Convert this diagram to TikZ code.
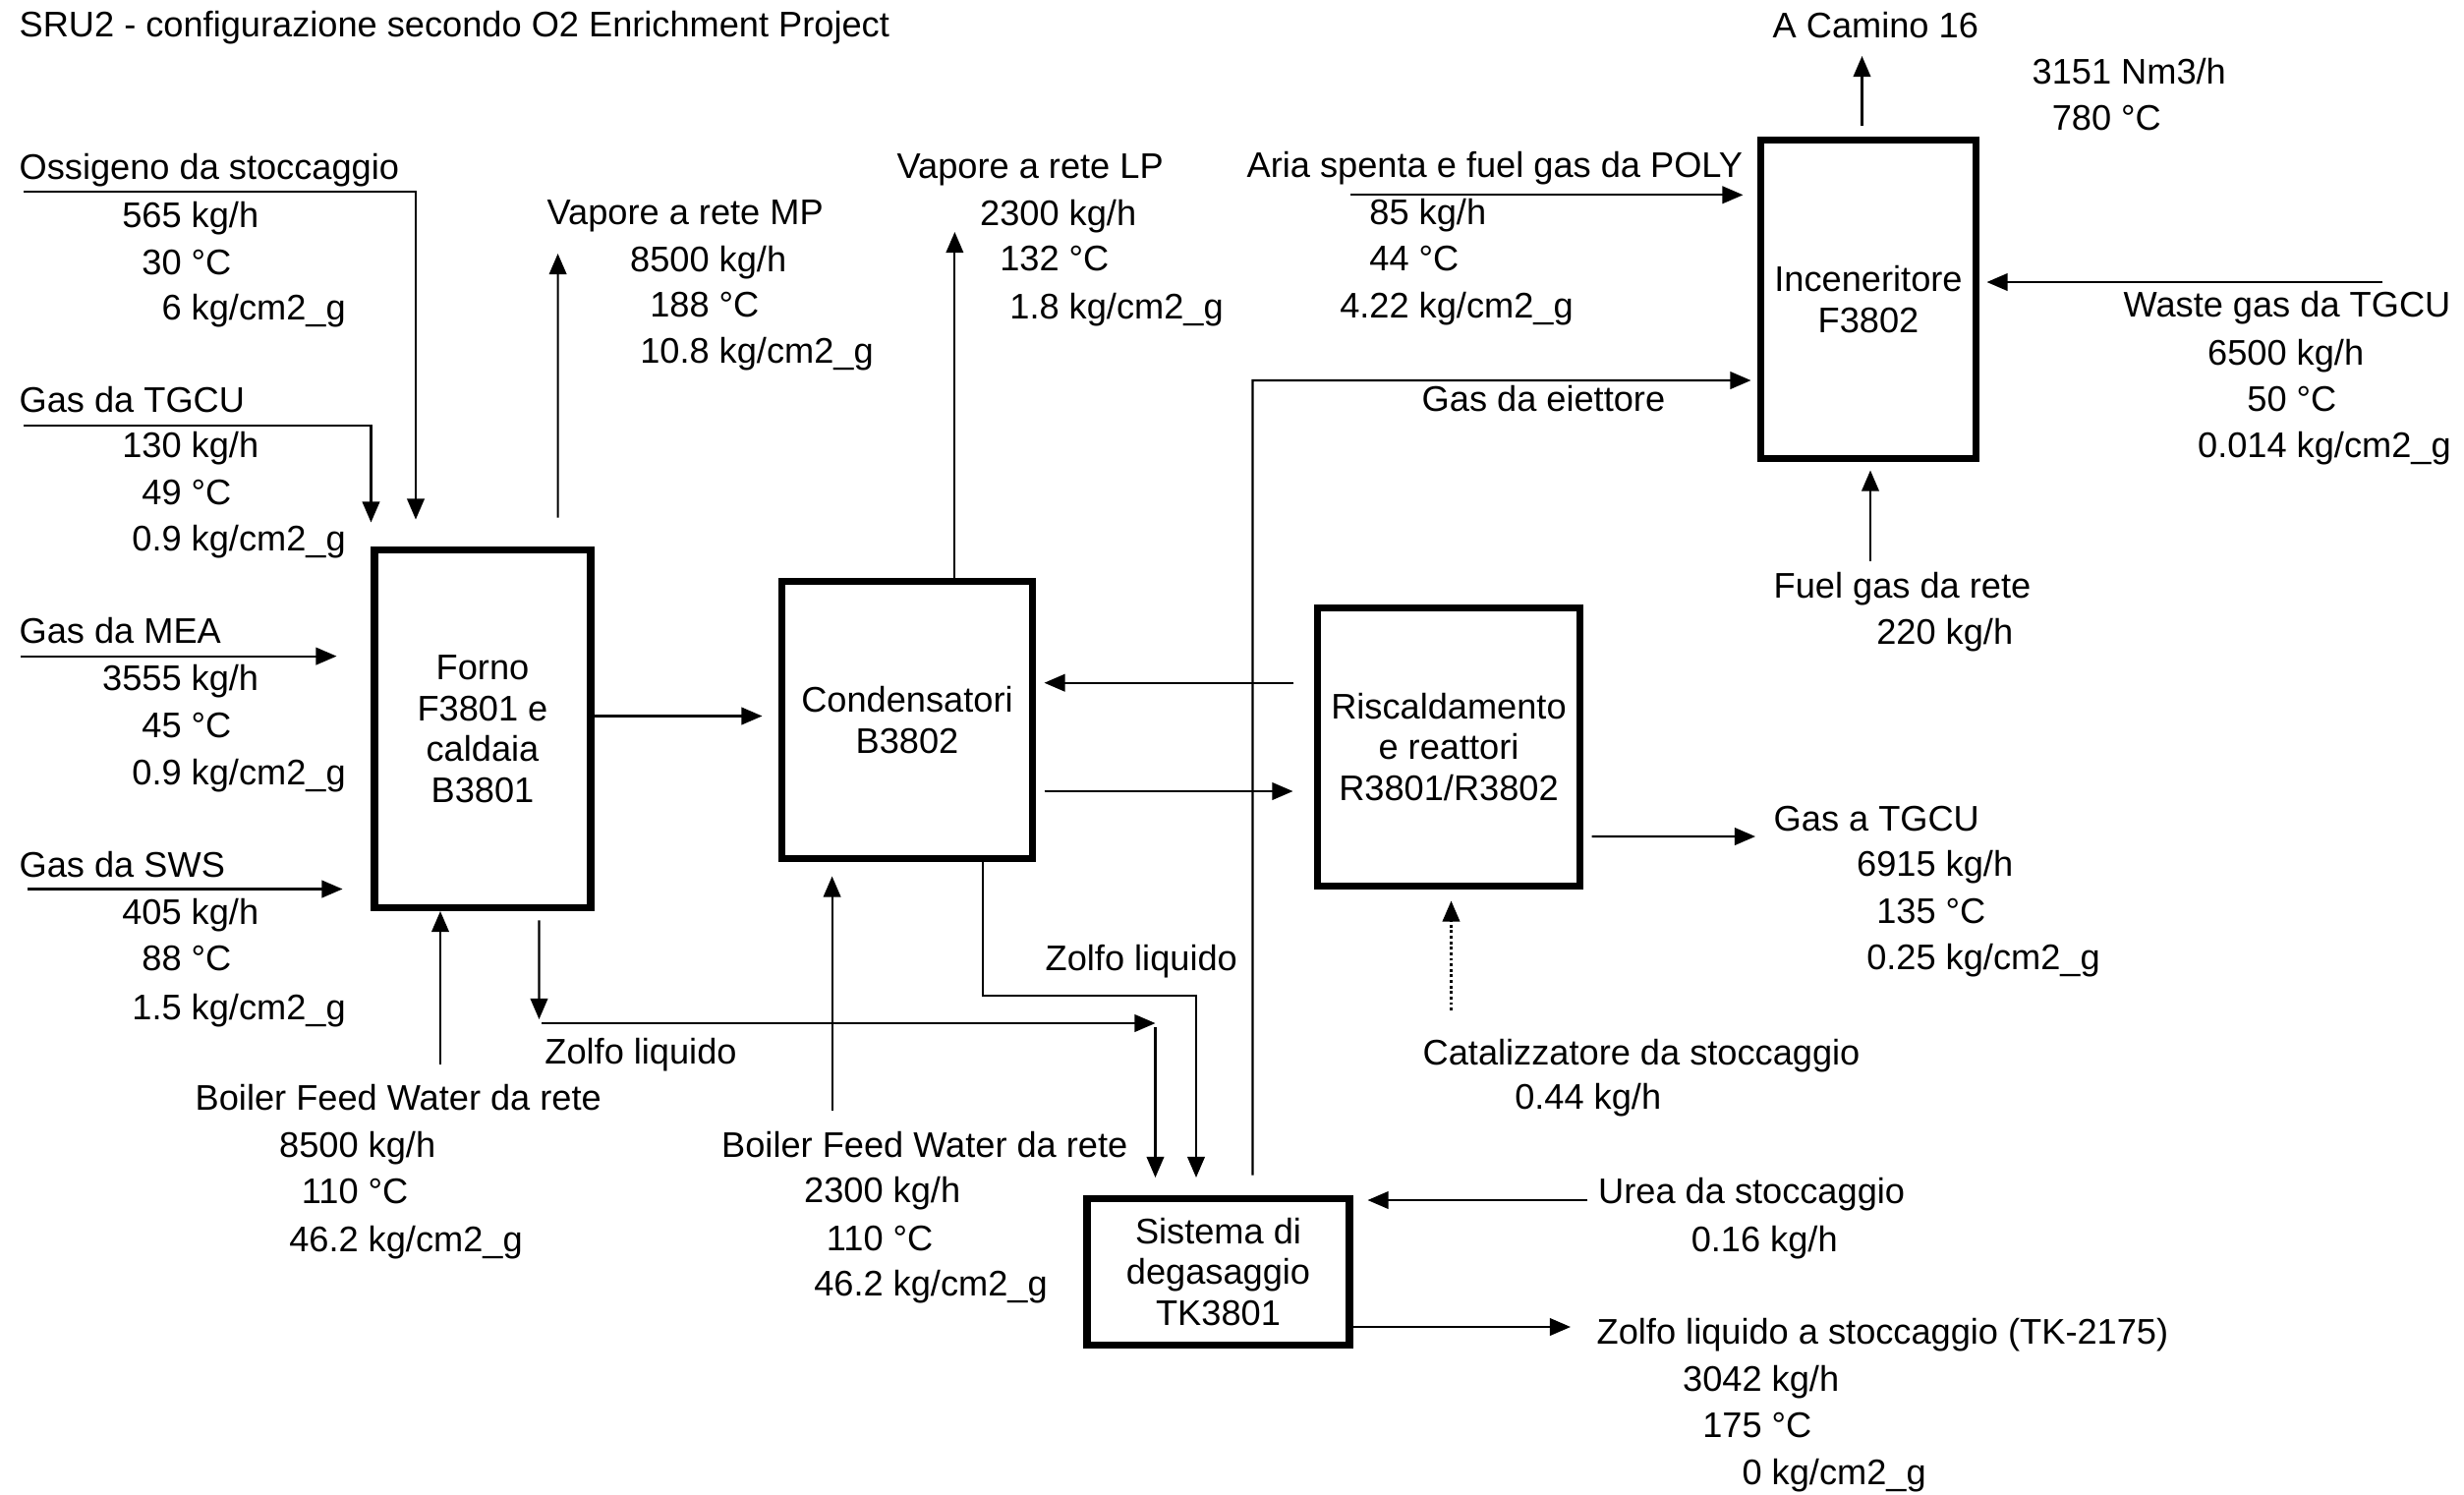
\documentclass[tikz,border=0pt]{standalone}
\usepackage{fontspec}
\setmainfont{Liberation Sans}
\usetikzlibrary{arrows.meta,positioning}
\newcommand{\sval}[2]{\llap{#1}\ #2}

\begin{document}
\begin{tikzpicture}[font=\fontsize{10.3}{13.4}\selectfont,
  >={Triangle[length=6pt,width=5pt]},
  flow/.style={->,line width=0.6pt},
  unit/.style={draw,line width=2pt,align=center,inner sep=0pt,font=\fontsize{10.3}{11.8}\selectfont},
  lbl/.style={anchor=base west,inner sep=0pt}]
\useasboundingbox (0,0) rectangle (25.07,-15.20);
% units
\node (forno) [unit,minimum width=2.20cm,minimum height=3.64cm] at (4.91,-7.415) {Forno\\F3801 e\\caldaia\\B3801};
\node (cond) [unit,minimum width=2.55cm,minimum height=2.82cm] at (9.23,-7.325) {Condensatori\\B3802};
\node (risc) [unit,minimum width=2.67cm,minimum height=2.83cm] at (14.74,-7.60) {Riscaldamento\\e reattori\\R3801/R3802};
\node (incen) [unit,minimum width=2.19cm,minimum height=3.24cm] at (19.01,-3.045) {Inceneritore\\F3802};
\node (degas) [unit,minimum width=2.67cm,minimum height=1.49cm] at (12.395,-12.94) {Sistema di\\degasaggio\\TK3801};
% title
\node (tit) [lbl] at (0.19,-0.37) {SRU2 - configurazione secondo O2 Enrichment Project};
% feeds to the furnace
\node (oxh) [lbl] at (0.19,-1.82) {Ossigeno da stoccaggio};
\node (ox1) [lbl] at (1.84,-2.31) {\sval{565}{kg/h}};
\node (ox2) [lbl] at (1.84,-2.79) {\sval{30}{°C}};
\node (ox3) [lbl] at (1.84,-3.25) {\sval{6}{kg/cm2\_g}};
\node (tgh) [lbl] at (0.19,-4.19) {Gas da TGCU};
\node (tg1) [lbl] at (1.84,-4.65) {\sval{130}{kg/h}};
\node (tg2) [lbl] at (1.84,-5.135) {\sval{49}{°C}};
\node (tg3) [lbl] at (1.84,-5.60) {\sval{0.9}{kg/cm2\_g}};
\node (meh) [lbl] at (0.19,-6.546) {Gas da MEA};
\node (me1) [lbl] at (1.84,-7.02) {\sval{3555}{kg/h}};
\node (me2) [lbl] at (1.84,-7.50) {\sval{45}{°C}};
\node (me3) [lbl] at (1.84,-7.98) {\sval{0.9}{kg/cm2\_g}};
\node (swh) [lbl] at (0.19,-8.92) {Gas da SWS};
\node (sw1) [lbl] at (1.84,-9.40) {\sval{405}{kg/h}};
\node (sw2) [lbl] at (1.84,-9.87) {\sval{88}{°C}};
\node (sw3) [lbl] at (1.84,-10.37) {\sval{1.5}{kg/cm2\_g}};
\node (bfh1) [lbl] at (1.98,-11.29) {Boiler Feed Water da rete};
\node (bf11) [lbl] at (3.64,-11.77) {\sval{8500}{kg/h}};
\node (bf12) [lbl] at (3.64,-12.24) {\sval{110}{°C}};
\node (bf13) [lbl] at (3.64,-12.73) {\sval{46.2}{kg/cm2\_g}};
% steam and water
\node (mph) [lbl] at (5.56,-2.287) {Vapore a rete MP};
\node (mp1) [lbl] at (7.21,-2.76) {\sval{8500}{kg/h}};
\node (mp2) [lbl] at (7.21,-3.227) {\sval{188}{°C}};
\node (mp3) [lbl] at (7.21,-3.69) {\sval{10.8}{kg/cm2\_g}};
\node (lph) [lbl] at (9.12,-1.81) {Vapore a rete LP};
\node (lp1) [lbl] at (10.77,-2.29) {\sval{2300}{kg/h}};
\node (lp2) [lbl] at (10.77,-2.75) {\sval{132}{°C}};
\node (lp3) [lbl] at (10.77,-3.247) {\sval{1.8}{kg/cm2\_g}};
\node (bfh2) [lbl] at (7.335,-11.77) {Boiler Feed Water da rete};
\node (bf21) [lbl] at (8.98,-12.237) {\sval{2300}{kg/h}};
\node (bf22) [lbl] at (8.98,-12.72) {\sval{110}{°C}};
\node (bf23) [lbl] at (8.98,-13.187) {\sval{46.2}{kg/cm2\_g}};
\node (zl1) [lbl] at (5.537,-10.82) {Zolfo liquido};
\node (zl2) [lbl] at (10.63,-9.875) {Zolfo liquido};
% incinerator
\node (arh) [lbl] at (12.68,-1.803) {Aria spenta e fuel gas da POLY};
\node (ar1) [lbl] at (14.33,-2.287) {\sval{85}{kg/h}};
\node (ar2) [lbl] at (14.33,-2.75) {\sval{44}{°C}};
\node (ar3) [lbl] at (14.33,-3.237) {\sval{4.22}{kg/cm2\_g}};
\node (ejh) [lbl] at (14.46,-4.187) {Gas da eiettore};
\node (cmh) [lbl] at (18.03,-0.38) {A Camino 16};
\node (cm1) [lbl] at (21.475,-0.857) {\sval{3151}{Nm3/h}};
\node (cm2) [lbl] at (21.475,-1.325) {\sval{780}{°C}};
\node (wgh) [lbl] at (21.60,-3.22) {Waste gas da TGCU};
\node (wg1) [lbl] at (23.26,-3.714) {\sval{6500}{kg/h}};
\node (wg2) [lbl] at (23.26,-4.18) {\sval{50}{°C}};
\node (wg3) [lbl] at (23.26,-4.65) {\sval{0.014}{kg/cm2\_g}};
\node (fgh) [lbl] at (18.04,-6.08) {Fuel gas da rete};
\node (fg1) [lbl] at (19.69,-6.55) {\sval{220}{kg/h}};
% outlets
\node (gth) [lbl] at (18.04,-8.45) {Gas a TGCU};
\node (gt1) [lbl] at (19.69,-8.917) {\sval{6915}{kg/h}};
\node (gt2) [lbl] at (19.69,-9.39) {\sval{135}{°C}};
\node (gt3) [lbl] at (19.69,-9.86) {\sval{0.25}{kg/cm2\_g}};
\node (cth) [lbl] at (14.47,-10.83) {Catalizzatore da stoccaggio};
\node (ct1) [lbl] at (16.11,-11.287) {\sval{0.44}{kg/h}};
\node (urh) [lbl] at (16.255,-12.244) {Urea da stoccaggio};
\node (ur1) [lbl] at (17.905,-12.737) {\sval{0.16}{kg/h}};
\node (zsh) [lbl] at (16.24,-13.67) {Zolfo liquido a stoccaggio (TK-2175)};
\node (zs1) [lbl] at (17.92,-14.15) {\sval{3042}{kg/h}};
\node (zs2) [lbl] at (17.92,-14.62) {\sval{175}{°C}};
\node (zs3) [lbl] at (17.92,-15.10) {\sval{0}{kg/cm2\_g}};
% free ends
\coordinate (oxs) at (0.24,-1.95);
\coordinate (tgs) at (0.24,-4.327);
\coordinate (mes) at (0.214,-6.676);
\coordinate (sws) at (0.28,-9.045);
\coordinate (mpt) at (5.676,-2.58);
\coordinate (bf1s) at (4.48,-10.83);
\coordinate (zf1) at (5.485,-10.37);
\coordinate (zf2) at (5.51,-10.41);
\coordinate (zf3) at (11.755,-10.41);
\coordinate (fc) at ([yshift=1.3mm]forno.east);
\coordinate (bf2s) at (8.466,-11.30);
\coordinate (lpt) at (9.714,-2.36);
\coordinate (zc1) at (10.00,-10.13);
\coordinate (rc) at ([yshift=6.53mm]risc.west);
\coordinate (cr) at ([yshift=-7.25mm]cond.east);
\coordinate (rg) at ([yshift=-9.1mm]risc.east);
\coordinate (gtt) at (17.86,-8.51);
\coordinate (cts) at (14.765,-10.28);
\coordinate (rsb) at ([xshift=3.5mm,yshift=2.05mm]degas.north);
\coordinate (rst) at (12.745,-3.87);
\coordinate (urs) at (16.15,-12.21);
\coordinate (zst) at (15.98,-13.50);
\coordinate (ars) at (13.74,-1.983);
\coordinate (wgs) at (24.24,-2.87);
\coordinate (fgs) at (19.03,-5.71);
\coordinate (cmt) at (18.945,-0.57);
% connectors
\draw [flow] (oxs) -| ([xshift=-6.8mm,yshift=2.75mm]forno.north);
\draw [flow] (tgs) -| ([yshift=2.45mm]forno.north west);
\draw [flow,shorten >=3.5mm] (mes) -- (mes -| forno.west);
\draw [flow,shorten >=2.9mm] (sws) -- (sws -| forno.west);
\draw [flow] ([xshift=7.66mm,yshift=2.95mm]forno.north) -- (mpt);
\draw [flow] (bf1s) -- (bf1s |- forno.south);
\draw [flow] ([xshift=5.75mm,yshift=-0.93mm]forno.south) -- (zf1);
\draw [flow] (zf2) -- (zf3);
\draw [flow,shorten >=1.8mm] ([yshift=-0.4mm]zf3) -- (zf3 |- degas.north);
\draw [flow,shorten >=1.65mm] (fc) -- (fc -| cond.west);
\draw [flow,shorten >=1.45mm] (bf2s) -- (bf2s |- cond.south);
\draw [flow] (lpt |- cond.north) -- (lpt);
\draw [flow,shorten >=1.8mm] (zc1 |- cond.south) -- (zc1) -| ([xshift=-2.25mm]degas.north);
\draw [flow,shorten <=2.05mm,shorten >=0.85mm] (rc) -- (rc -| cond.east);
\draw [flow,shorten <=0.85mm,shorten >=2.15mm] (cr) -- (cr -| risc.west);
\draw [flow,shorten <=0.85mm] (rg) -- (gtt);
\draw [flow,dash pattern=on 0.8pt off 0.8pt,shorten >=1.15mm] (cts) -- (cts |- risc.south);
\draw [flow,shorten >=0.65mm] (rsb) -- (rst) -- (rst -| incen.west);
\draw [flow,shorten >=1.5mm] (urs) -- (urs -| degas.east);
\draw [flow] (zst -| degas.east) -- (zst);
\draw [flow,shorten >=1.45mm] (ars) -- (ars -| incen.west);
\draw [flow,shorten >=0.75mm] (wgs) -- (wgs -| incen.east);
\draw [flow,shorten >=0.85mm] (fgs) -- (fgs |- incen.south);
\draw [flow,shorten <=1.08mm] (cmt |- incen.north) -- (cmt);
\end{tikzpicture}
\end{document}
